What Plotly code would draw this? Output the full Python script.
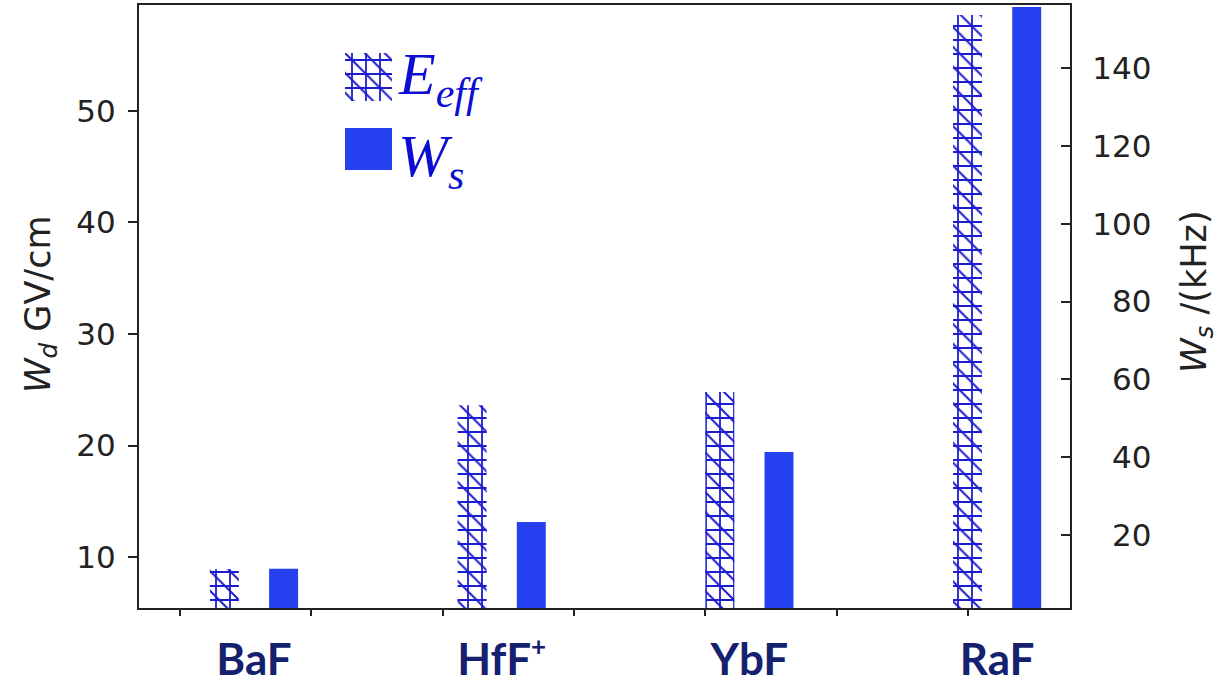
import plotly.graph_objects as go

# ---- data ----
molecules = ["BaF", "HfF<sup><span style='font-size:26px'>+</span></sup>", "YbF", "RaF"]
e_eff = [8.9, 23.6, 24.8, 58.6]        # left axis, GV/cm
w_s = [11.3, 23.3, 41.3, 155.7]        # right axis, kHz
left_ticks = [10, 20, 30, 40, 50]
right_ticks = [20, 40, 60, 80, 100, 120, 140]
minor_x_ticks = [0, 1, 2, 3, 4, 5, 6]

# ---- style ----
HATCH = "#1c1cd0"
SOLID = "#2541f0"
AXC = "#222222"
NAVY = "#15206e"
TICKFONT = dict(family="DejaVu Sans", size=31, color=AXC)

# plot area in px
L, R, T, B = 139, 1070, 5, 608
W, H = 1229, 684

def px_x(p):
    return (p - L) / (R - L)

def px_y(p):
    return (B - p) / (B - T)

BW = 0.117
OFF_E = -0.178
OFF_W = 0.061
PATTERNS = [("+", 0.24), ("\\", 0.14)]

fig = go.Figure()

for shape, sol in PATTERNS:
    fig.add_trace(go.Bar(
        x=molecules, y=e_eff, xaxis="x", yaxis="y",
        width=BW, offset=OFF_E,
        marker=dict(color=HATCH, line=dict(width=0),
                    pattern=dict(shape=shape, size=14, solidity=sol, fillmode="replace")),
        showlegend=False, hoverinfo="skip"))

fig.add_trace(go.Bar(
    x=molecules, y=w_s, xaxis="x", yaxis="y2",
    width=BW, offset=OFF_W,
    marker=dict(color=SOLID, line=dict(width=0)),
    showlegend=False, hoverinfo="skip"))

# empty trace to make the tick-only overlay axis exist
fig.add_trace(go.Scatter(x=[None], y=[None], xaxis="x2", yaxis="y",
                         mode="markers", showlegend=False, hoverinfo="skip"))

# legend swatches
for shape, sol in PATTERNS:
    fig.add_trace(go.Bar(
        x=[0], y=[1], xaxis="x3", yaxis="y3", width=1,
        marker=dict(color=HATCH, line=dict(width=0),
                    pattern=dict(shape=shape, size=14, solidity=sol, fillmode="replace")),
        showlegend=False, hoverinfo="skip"))
fig.add_trace(go.Bar(
    x=[0], y=[1], xaxis="x3", yaxis="y4", width=1,
    marker=dict(color=SOLID, line=dict(width=0)),
    showlegend=False, hoverinfo="skip"))

fig.update_layout(
    width=W, height=H,
    margin=dict(l=L, r=W - R, t=T, b=H - B, autoexpand=False),
    paper_bgcolor="white", plot_bgcolor="white",
    barmode="overlay",
    xaxis=dict(
        type="category", range=[(L - 254) / 247.7, (R - 254) / 247.7],
        showline=True, linecolor=AXC, linewidth=2, mirror=True,
        ticks="", showgrid=False, zeroline=False,
        tickfont=dict(family="Lato", size=44, color=NAVY, weight="bold"),
        ticklabelstandoff=12,
    ),
    xaxis2=dict(
        overlaying="x", side="bottom", anchor="y",
        range=[(L - 180) / 131.3, (R - 180) / 131.3],
        tickmode="array", tickvals=minor_x_ticks,
        ticks="outside", ticklen=7, tickwidth=2, tickcolor=AXC,
        showticklabels=False, showgrid=False, zeroline=False, showline=False,
    ),
    yaxis=dict(
        range=[5.43, 59.5], tickmode="array", tickvals=left_ticks,
        ticks="outside", ticklen=9, tickwidth=2, tickcolor=AXC,
        showline=True, linecolor=AXC, linewidth=2,
        showgrid=False, zeroline=False, tickfont=TICKFONT,
        ticklabelstandoff=6,
    ),
    yaxis2=dict(
        overlaying="y", side="right", anchor="x",
        range=[1.23, 156.2], tickmode="array", tickvals=right_ticks,
        ticktext=[("\u2007" if v < 100 else "") + str(v) for v in right_ticks],
        ticks="inside", ticklen=9, tickwidth=2, tickcolor=AXC,
        showline=True, linecolor=AXC, linewidth=2,
        showgrid=False, zeroline=False, tickfont=TICKFONT,
        ticklabelstandoff=14,
    ),
    xaxis3=dict(domain=[px_x(345), px_x(392)], anchor="y3", range=[-0.5, 0.5], visible=False),
    yaxis3=dict(domain=[px_y(101), px_y(53)], anchor="x3", range=[0, 1], visible=False),
    yaxis4=dict(domain=[px_y(170), px_y(128)], anchor="x3", range=[0, 1], visible=False),
    annotations=[
        dict(text="<i>W</i><sub><i>d</i></sub> GV/cm", xref="paper", yref="paper",
             x=px_x(40), y=px_y(304), xanchor="center", yanchor="middle",
             textangle=-90, showarrow=False,
             font=dict(family="DejaVu Sans", size=35, color=AXC)),
        dict(text="<i>W</i><sub><i>s</i></sub> /(kHz)", xref="paper", yref="paper",
             x=px_x(1196), y=px_y(292), xanchor="center", yanchor="middle",
             textangle=-90, showarrow=False,
             font=dict(family="DejaVu Sans", size=35, color=AXC)),
        dict(text="<i>E</i><sub><i>eff</i></sub>", xref="paper", yref="paper",
             x=px_x(396), y=px_y(78), xanchor="left", yanchor="middle",
             showarrow=False,
             font=dict(family="Liberation Serif", size=60, color="#0e0ed2")),
        dict(text="<i>W</i><sub><i>s</i></sub>", xref="paper", yref="paper",
             x=px_x(396), y=px_y(160), xanchor="left", yanchor="middle",
             showarrow=False,
             font=dict(family="Liberation Serif", size=60, color="#0e0ed2")),
    ],
)

fig.write_html("out.html")
